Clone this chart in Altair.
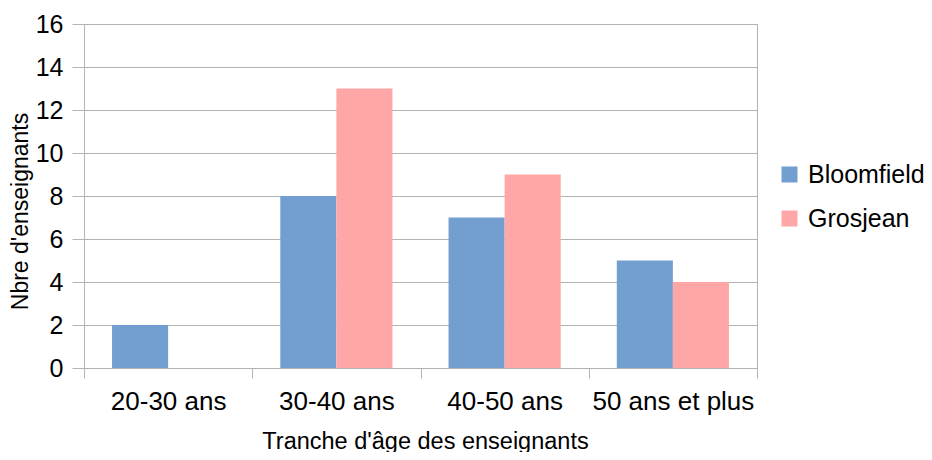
import altair as alt
import pandas as pd

categories = ["20-30 ans", "30-40 ans", "40-50 ans", "50 ans et plus"]
series_names = ["Bloomfield", "Grosjean"]
bloomfield = [2, 8, 7, 5]
grosjean = [0, 13, 9, 4]
colors = ["#729fcf", "#ffa6a6"]
y_ticks = [0, 2, 4, 6, 8, 10, 12, 14, 16]

rows = []
for c, b, g in zip(categories, bloomfield, grosjean):
    rows.append({"cat": c, "serie": "Bloomfield", "val": b})
    rows.append({"cat": c, "serie": "Grosjean", "val": g})
df = pd.DataFrame(rows)

FONT = "Liberation Sans"
GRID = "#b3b3b3"

chart = alt.Chart(df).mark_bar().encode(
    x=alt.X("cat:N", sort=categories,
            scale=alt.Scale(paddingInner=0, paddingOuter=0),
            axis=alt.Axis(title="Tranche d'âge des enseignants", labelAngle=0,
                          tickBand="extent", tickSize=10, tickColor=GRID,
                          domainColor=GRID, labelFontSize=26, labelFont=FONT,
                          labelColor="#000000", labelBaseline="alphabetic",
                          labelPadding=31, titleFont=FONT, titleFontSize=23.5,
                          titleFontWeight="normal", titleColor="#000000",
                          titleBaseline="alphabetic", titleY=80, titleX=341)),
    xOffset=alt.XOffset("serie:N", sort=series_names,
                        scale=alt.Scale(paddingOuter=0.5, paddingInner=0)),
    y=alt.Y("val:Q", scale=alt.Scale(domain=[0, 16], nice=False),
            axis=alt.Axis(title="Nbre d'enseignants", values=y_ticks,
                          tickSize=12, tickColor=GRID, domainColor=GRID,
                          gridColor=GRID, labelFontSize=25, labelFont=FONT,
                          labelColor="#000000", labelPadding=9,
                          titleFont=FONT, titleFontSize=23,
                          titleFontWeight="normal", titleColor="#000000",
                          titleX=-52, titleY=187)),
    color=alt.Color("serie:N", sort=series_names,
                    scale=alt.Scale(domain=series_names, range=colors),
                    legend=alt.Legend(title=None, orient="none", legendX=693,
                                      legendY=138, symbolType="square",
                                      symbolSize=256, symbolStrokeWidth=0,
                                      labelFontSize=25, labelFont=FONT,
                                      labelColor="#000000", labelOffset=6,
                                      rowPadding=18, padding=0)),
).properties(
    width=673, height=344,
    autosize=alt.AutoSizeParams(type="none"),
    padding={"left": 76, "top": 16, "right": 167, "bottom": 84},
).configure_view(
    stroke=GRID, strokeWidth=1
).configure_axis(
    gridWidth=1, domainWidth=1, tickWidth=1
)

chart.save("out.html", embed_options={"renderer": "svg", "actions": False})
